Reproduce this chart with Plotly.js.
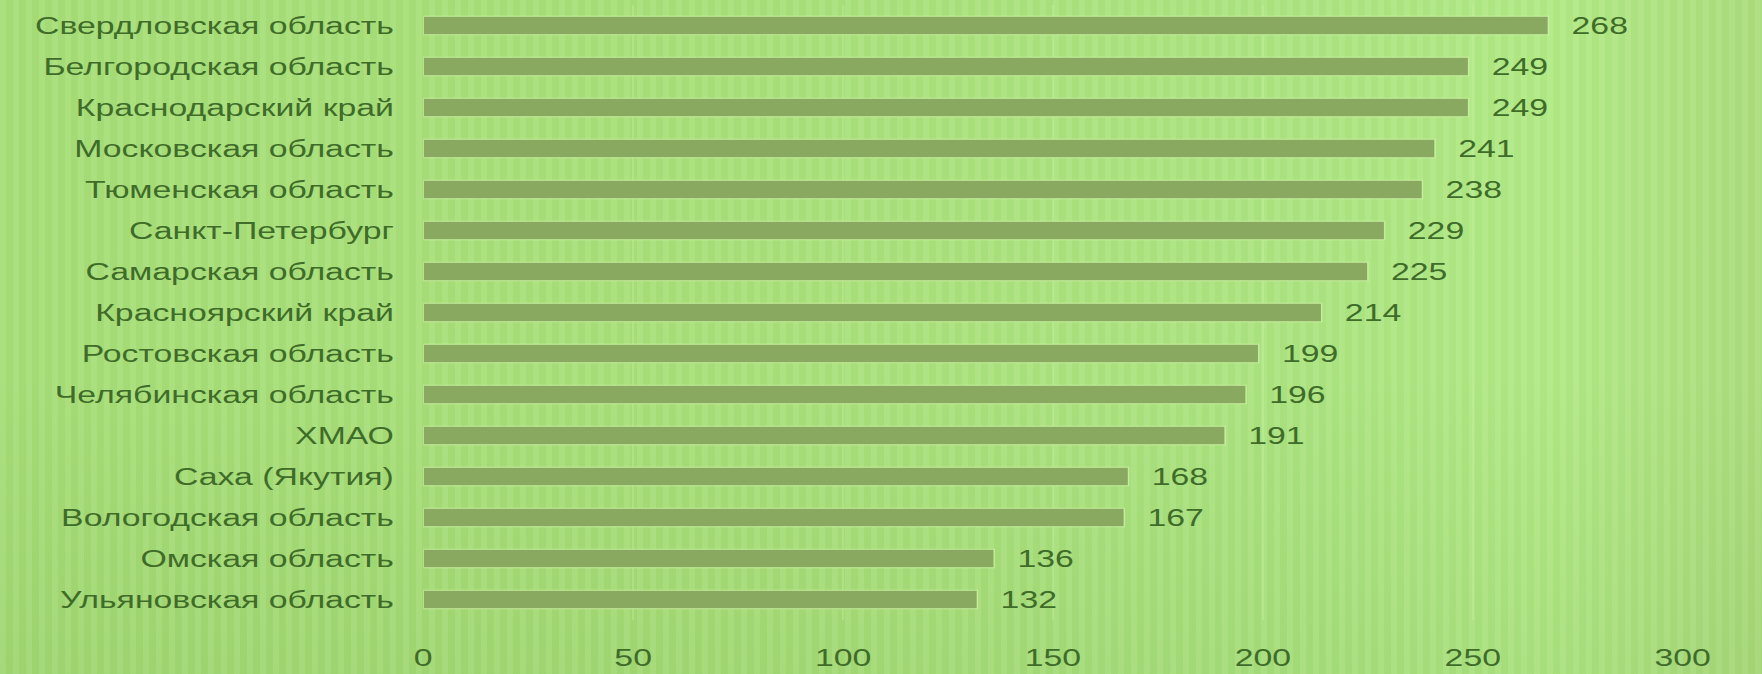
<!DOCTYPE html>
<html>
<head>
<meta charset="utf-8">
<script src="https://cdn.plot.ly/plotly-3.0.1.min.js"></script>
<style>
  html, body { margin: 0; padding: 0; width: 1762px; height: 674px; overflow: hidden; }
  body {
    background:
      repeating-linear-gradient(90deg, rgba(255,255,255,0.05) 0px, rgba(255,255,255,0.05) 6px, rgba(40,80,10,0.025) 6px, rgba(40,80,10,0.025) 13px),
      linear-gradient(180deg, rgba(0,0,0,0) 55%, rgba(50,90,10,0.06) 100%),
      linear-gradient(90deg, #a7de78 0%, #a9e07a 40%, #ade582 75%, #b2ea86 88%, #acdd7e 100%);
  }
  #wrap { position: absolute; left: 0; top: 0; width: 1199px; height: 674px;
          transform: scaleX(1.4696); transform-origin: 0 0; }
  #chart { width: 1199px; height: 674px; }
</style>
</head>
<body>
<div id="wrap"><div id="chart"></div></div>
<script>
const regions = [
  "Свердловская область",
  "Белгородская область",
  "Краснодарский край",
  "Московская область",
  "Тюменская область",
  "Санкт-Петербург",
  "Самарская область",
  "Красноярский край",
  "Ростовская область",
  "Челябинская область",
  "ХМАО",
  "Саха (Якутия)",
  "Вологодская область",
  "Омская область",
  "Ульяновская область"
];
const values = [268, 249, 249, 241, 238, 229, 225, 214, 199, 196, 191, 168, 167, 136, 132];
const xTicks = [0, 50, 100, 150, 200, 250, 300];

const textColor = "#3f6c29";
const fontFamily = "'Liberation Sans', Arial, sans-serif";
const fontSize = 23;

const trace = {
  type: "bar",
  orientation: "h",
  y: regions,
  x: values,
  marker: { color: "#88a95f", line: { color: "rgba(205,242,165,0.85)", width: 1 } },
  texttemplate: "\u00a0\u00a0%{x}",
  textposition: "outside",
  constraintext: "none",
  cliponaxis: false,
  textfont: { family: fontFamily, size: fontSize, color: textColor },
  hoverinfo: "skip"
};

const layout = {
  width: 1199,
  height: 674,
  margin: { l: 288, r: 54, t: 5, b: 54 },
  paper_bgcolor: "rgba(0,0,0,0)",
  plot_bgcolor: "rgba(0,0,0,0)",
  bargap: 0.55,
  showlegend: false,
  font: { family: fontFamily, size: fontSize, color: textColor },
  xaxis: {
    range: [0, 300],
    tickvals: xTicks,
    ticktext: xTicks.map(String),
    showgrid: true,
    gridcolor: "rgba(205,245,170,0.3)",
    gridwidth: 1,
    zeroline: false,
    showline: false,
    ticks: "",
    ticklabelstandoff: 22,
    tickfont: { family: fontFamily, size: fontSize, color: textColor },
    fixedrange: true
  },
  yaxis: {
    type: "category",
    autorange: "reversed",
    showgrid: false,
    zeroline: false,
    showline: false,
    ticks: "",
    ticklabelstandoff: 19,
    tickfont: { family: fontFamily, size: fontSize, color: textColor },
    fixedrange: true
  }
};

Plotly.newPlot("chart", [trace], layout, { displayModeBar: false, staticPlot: true });
</script>
</body>
</html>
